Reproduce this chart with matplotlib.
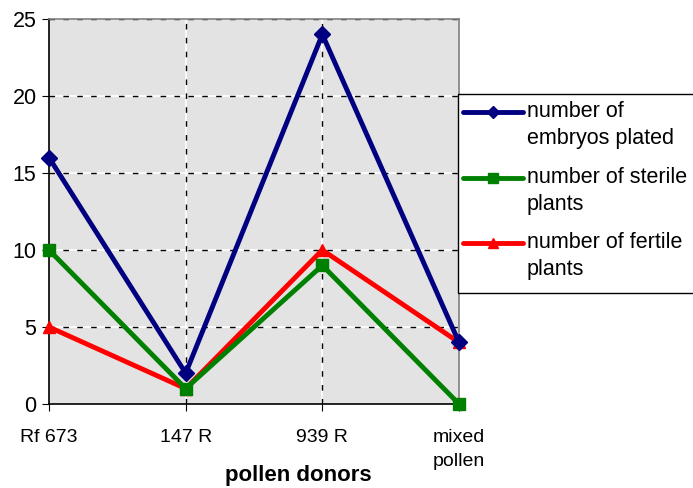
import matplotlib
matplotlib.use("Agg")
import matplotlib.pyplot as plt
from matplotlib.lines import Line2D
from matplotlib.patches import Rectangle

categories = ["Rf 673", "147 R", "939 R", "mixed\npollen"]
embryos = [16, 2, 24, 4]
sterile = [10, 1, 9, 0]
fertile = [5, 1, 10, 4]
labels = ["number of\nembryos plated", "number of sterile\nplants", "number of fertile\nplants"]
yticks = [0, 5, 10, 15, 20, 25]

plt.rcParams['font.family'] = ['Liberation Sans', 'DejaVu Sans']

W, H = 693, 488
fig = plt.figure(figsize=(W/100, H/100), dpi=100)
ax = fig.add_axes([49/W, 84/H, 410/W, 385/H])
ax.set_facecolor('#E3E3E3')
x = list(range(len(categories)))

for yv in yticks[1:]:
    ax.axhline(yv, color='white', lw=1.2, zorder=1)
    ax.axhline(yv, color='black', lw=1.0, dashes=(4, 6), zorder=1.5)
for xv in x[1:3]:
    ax.axvline(xv, color='white', lw=1.2, zorder=1)
    ax.axvline(xv, color='black', lw=1.0, dashes=(4, 6), zorder=1.5)

colors = ['#000080', '#008000', '#FF0000']
markers = ['D', 's', '^']
msizes = [8, 9, 9]
series = [embryos, sterile, fertile]
for z, (vals, c, m, ms) in enumerate(zip(series[::-1], colors[::-1], markers[::-1], msizes[::-1])):
    ax.plot(x, vals, color=c, lw=3.5, marker=m, ms=ms, zorder=3 + z, clip_on=False)

ax.set_xlim(0, 3)
ax.set_ylim(0, 25)
ax.set_yticks(yticks)
ax.set_xticks(x)
ax.set_xticklabels(categories, fontsize=14)
ax.tick_params(axis='y', labelsize=15.5, length=5, direction='out', pad=4)
ax.tick_params(axis='x', length=5, direction='out', pad=13)
for lbl in ax.get_xticklabels():
    lbl.set_linespacing(1.55)
    lbl.set_verticalalignment('top')

ax.spines['left'].set_color('black')
ax.spines['bottom'].set_color('black')
ax.spines['top'].set_color('#808080')
ax.spines['right'].set_color('#808080')
for s in ax.spines.values():
    s.set_linewidth(1.2)

fig.text(298/W, 1 - 475/H, "pollen donors", fontsize=16, fontweight='bold', ha='center', va='center')

# legend drawn manually (handle aligned with first text line)
fig.add_artist(Rectangle((458/W, 1 - 293/H), 260/W, 199/H, transform=fig.transFigure,
                         facecolor='white', edgecolor='black', lw=1.0, clip_on=False))
rows_y = [112, 178, 243]
for lab, c, m, ms, yy in zip(labels, colors, markers, msizes, rows_y):
    yf = 1 - yy/H
    fig.add_artist(Line2D([463/W, 523/W], [yf, yf], transform=fig.transFigure,
                          color=c, lw=3.5, solid_capstyle='round'))
    fig.add_artist(Line2D([493/W], [yf], transform=fig.transFigure, color=c,
                          marker=m, ms=ms - 2, lw=0))
    fig.text(527/W, 1 - (yy - 11)/H, lab, fontsize=15.5, ha='left', va='top', linespacing=1.4)

fig.savefig("out.png", dpi=100)
